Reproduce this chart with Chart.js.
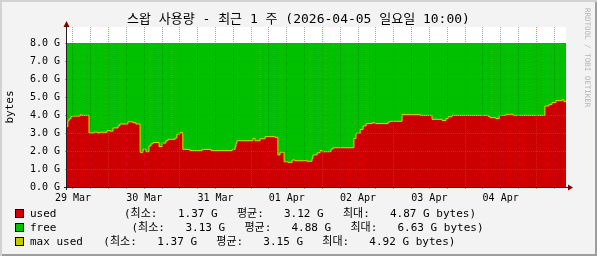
<!DOCTYPE html>
<html>
<head>
<meta charset="utf-8">
<script src="https://cdn.jsdelivr.net/npm/chart.js@4/dist/chart.umd.min.js"></script>
<style>
  body { margin: 0; background: #fff; }
  #wrap {
    position: relative; width: 597px; height: 256px; background: #f3f3f3;
    box-shadow: inset 2px 2px 0 #d2d2d2, inset -2px -2px 0 #9e9e9e;
    font-family: "DejaVu Sans Mono", "Noto Sans CJK KR", monospace; color: #000;
  }
  #chart { position: absolute; left: 0; top: 0; }
  .txt { position: absolute; white-space: pre; font-size: 11px; line-height: 14px; }
  #title { position: absolute; left: 0; width: 597px; top: 11px; text-align: center; font-size: 13px; line-height: 16px; white-space: pre; }
  #brand { position: absolute; left: 583px; top: 8px; writing-mode: vertical-rl; font-size: 7.5px; color: #b4b4b4; white-space: pre; }
  .sw { position: absolute; left: 15px; width: 7px; height: 7px; border: 1px solid #000; }
</style>
</head>
<body>
<div id="wrap">
  <canvas id="chart" width="597" height="256"></canvas>
  <div id="title">스왑 사용량 - 최근 1 주 (2026-04-05 일요일 10:00)</div>
  <div id="brand">RRDTOOL / TOBI OETIKER</div>
</div>
<script>
// hours since 29 Mar 10:00, swap used in GB
const hours = [0, 0.3, 0.7, 1.3, 1.7, 4.4, 4.7, 7.4, 9.1, 10.4,
  11.1, 13.5, 14.5, 15.5, 17.2, 17.8, 20.5, 22.2, 23.2, 24.6,
  25.6, 26.6, 27.6, 28.3, 29.0, 31.0, 32.0, 33.3, 34.0, 36.4,
  37.0, 38.0, 39.0, 41.4, 45.5, 48.5, 55.6, 56.6, 56.9, 57.2,
  62.6, 63.3, 65.0, 66.7, 70.0, 71.0, 71.7, 73.1, 74.4, 75.8,
  76.8, 80.8, 82.5, 82.8, 84.2, 85.2, 85.9, 88.9, 89.6, 96.6,
  97.3, 98.7, 99.7, 100.7, 102.7, 103.7, 108.1, 108.8, 112.8, 118.9,
  122.9, 126.3, 127.6, 128.3, 129.6, 141.8, 142.4, 144.4, 145.5, 147.8,
  150.2, 160.9, 162.3, 163.3, 164.6, 166.7, 167.3, 168];
const usedGB = [3.35, 3.68, 3.78, 3.9, 3.94, 4.03, 3.98, 3.0, 3.05, 3.0,
  3.04, 3.13, 3.1, 3.28, 3.4, 3.5, 3.62, 3.57, 3.5, 1.93,
  2.1, 1.96, 2.28, 2.4, 2.47, 2.24, 2.44, 2.57, 2.65, 2.72,
  2.94, 3.02, 2.09, 2.02, 2.09, 2.02, 2.09, 2.24, 2.43, 2.57,
  2.7, 2.57, 2.68, 2.8, 2.76, 1.78, 1.93, 1.4, 1.37, 1.5,
  1.46, 1.43, 1.59, 1.78, 1.9, 2.02, 1.96, 2.11, 2.18, 2.7,
  2.98, 3.2, 3.39, 3.52, 3.57, 3.52, 3.61, 3.65, 4.02, 3.98,
  3.76, 3.69, 3.8, 3.9, 3.98, 3.93, 3.85, 3.8, 3.98, 4.04,
  3.98, 4.5, 4.59, 4.69, 4.8, 4.85, 4.74, 4.74];
const totalHours = [0, 168];
const totalGB = [8.0, 8.0]; // swap size: used + free

const dayLabels = ['29 Mar', '30 Mar', '31 Mar', '01 Apr', '02 Apr', '03 Apr', '04 Apr'];

const legendNames = ['used', 'free', 'max used'];
const legendColors = ['#cc0000', '#00c000', '#c8c800'];
const legendMin = ['1.37', '3.13', '1.37'];
const legendAvg = ['3.12', '4.88', '3.15'];
const legendMax = ['4.87', '6.63', '4.92'];
const legendStart = [124, 131.5, 103.3];

// legend (html text)
const wrap = document.getElementById('wrap');
function addText(str, x, y) {
  const d = document.createElement('div');
  d.className = 'txt';
  d.style.left = x + 'px';
  d.style.top = y + 'px';
  d.textContent = str;
  wrap.appendChild(d);
}
legendNames.forEach((name, i) => {
  const cy = 213.5 + i * 14.2;
  const sw = document.createElement('div');
  sw.className = 'sw';
  sw.style.top = Math.round(cy - 4.5) + 'px';
  sw.style.background = legendColors[i];
  wrap.appendChild(sw);
  const ty = cy - 7;
  const s = legendStart[i];
  addText(name, 30, ty);
  addText('(최소:', s, ty);
  addText(legendMin[i] + ' G', s + 54, ty);
  addText('평균:', s + 113, ty);
  addText(legendAvg[i] + ' G', s + 160, ty);
  addText('최대:', s + 219, ty);
  addText(legendMax[i] + ' G bytes)', s + 266, ty);
});

const usedPoints = hours.map((h, i) => ({ x: h, y: usedGB[i] }));
const totalPoints = totalHours.map((h, i) => ({ x: h, y: totalGB[i] }));

const axisPlugin = {
  id: 'rrdAxes',
  beforeDraw(chart) {
    const { ctx, chartArea: a } = chart;
    ctx.save();
    ctx.fillStyle = '#ffffff';
    ctx.fillRect(a.left, a.top, a.right - a.left, a.bottom - a.top);
    ctx.restore();
  },
  afterDraw(chart) {
    const { ctx, chartArea: a } = chart;
    ctx.save();
    ctx.strokeStyle = '#202020';
    ctx.lineWidth = 1;
    ctx.beginPath();
    ctx.moveTo(a.left - 3, a.bottom + 0.5);
    ctx.lineTo(a.right + 4, a.bottom + 0.5);
    ctx.moveTo(a.left - 0.5, a.bottom + 3);
    ctx.lineTo(a.left - 0.5, a.top - 3);
    ctx.stroke();
    ctx.fillStyle = '#800000';
    ctx.beginPath();
    ctx.moveTo(a.left - 0.5, a.top - 6);
    ctx.lineTo(a.left - 3.5, a.top);
    ctx.lineTo(a.left + 2.5, a.top);
    ctx.closePath();
    ctx.fill();
    ctx.beginPath();
    ctx.moveTo(a.right + 7, a.bottom + 0.5);
    ctx.lineTo(a.right + 2, a.bottom - 2.5);
    ctx.lineTo(a.right + 2, a.bottom + 3.5);
    ctx.closePath();
    ctx.fill();
    ctx.restore();
  }
};

const minorGrid = 'rgba(70, 70, 70, 0.5)';
const majorGrid = 'rgba(225, 50, 50, 0.6)';

new Chart(document.getElementById('chart'), {
  type: 'line',
  data: {
    datasets: [
      {
        label: 'max used',
        data: usedPoints,
        borderColor: '#dcd800',
        borderWidth: 1,
        fill: false,
        stepped: 'before',
        pointRadius: 0
      },
      {
        label: 'used',
        data: usedPoints,
        backgroundColor: '#cc0000',
        borderWidth: 0,
        fill: 'origin',
        stepped: 'before',
        pointRadius: 0
      },
      {
        label: 'free',
        data: totalPoints,
        backgroundColor: '#00c000',
        borderWidth: 0,
        fill: 'origin',
        stepped: 'before',
        pointRadius: 0
      }
    ]
  },
  options: {
    responsive: false,
    animation: false,
    layout: { padding: { left: 0, top: 27, right: 31, bottom: 0 } },
    plugins: { legend: { display: false }, tooltip: { enabled: false } },
    scales: {
      x: {
        type: 'linear',
        min: 0,
        max: 168,
        afterBuildTicks(scale) {
          const t = [];
          for (let h = 2; h <= 168; h += 6) t.push({ value: h });
          scale.ticks = t;
        },
        afterFit(scale) { scale.height = 69; },
        grid: {
          z: 1,
          color: ctx => ((ctx.tick.value - 14) % 24 === 0 ? majorGrid : minorGrid),
          tickColor: ctx => ((ctx.tick.value - 14) % 24 === 0 ? majorGrid : minorGrid),
          lineWidth: 1,
          drawTicks: true,
          tickLength: 2
        },
        border: { display: false, dash: [1, 1] },
        ticks: {
          autoSkip: false,
          maxRotation: 0,
          padding: 3,
          color: '#000',
          font: { family: 'DejaVu Sans Mono', size: 10 },
          callback: v => ((v - 2) % 24 === 0 ? dayLabels[(v - 2) / 24] : '')
        }
      },
      y: {
        min: 0,
        max: 160 / 18,
        afterBuildTicks(scale) {
          const t = [];
          for (let v = 0; v <= 8.5; v += 0.5) t.push({ value: v });
          scale.ticks = t;
        },
        afterFit(scale) { scale.width = 67; },
        grid: {
          z: 1,
          color: ctx => (ctx.tick.value % 1 === 0 ? majorGrid : minorGrid),
          tickColor: ctx => (ctx.tick.value % 1 === 0 ? majorGrid : minorGrid),
          lineWidth: 1,
          drawTicks: true,
          tickLength: 2
        },
        border: { display: false, dash: [1, 1] },
        title: {
          display: true,
          text: 'bytes',
          color: '#000',
          font: { family: 'DejaVu Sans Mono', size: 11 },
          padding: { top: 4, bottom: 0 }
        },
        ticks: {
          padding: 5,
          color: '#000',
          font: { family: 'DejaVu Sans Mono', size: 10 },
          callback: v => (v % 1 === 0 ? v.toFixed(1) + ' G' : '')
        }
      }
    }
  },
  plugins: [axisPlugin]
});
</script>
</body>
</html>
